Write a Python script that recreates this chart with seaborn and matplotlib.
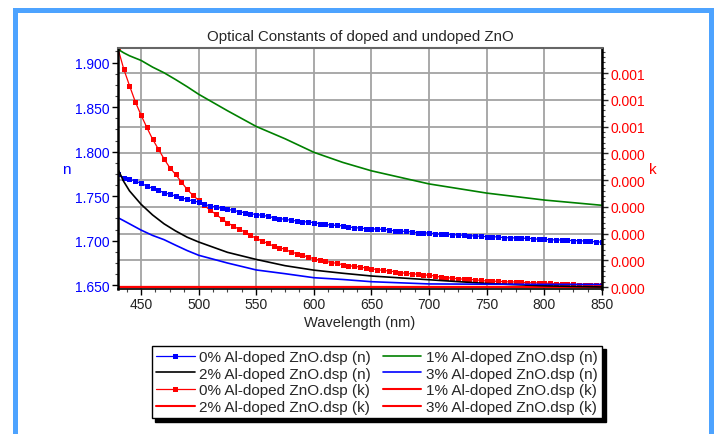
import numpy as np
import matplotlib
matplotlib.use('Agg')
import matplotlib.pyplot as plt
import seaborn as sns
from matplotlib.ticker import MultipleLocator, FixedLocator, FixedFormatter
from matplotlib.patches import Rectangle

sns.set_style('ticks')
plt.rcParams['font.family'] = ['Liberation Sans', 'DejaVu Sans']

# wavelength grids (nm)
wl_fine = np.arange(430, 851, 5)
wl_line = [430, 435, 440, 450, 460, 470, 480, 490, 500, 525, 550, 575, 600, 625, 650, 700, 750, 800, 850]

# 0% Al-doped, n (marker series, every 5 nm)
n_0 = [1.7746, 1.7708, 1.7690, 1.7671, 1.7645, 1.7615, 1.7589, 1.7566, 1.7540, 1.7522,
       1.7502, 1.7483, 1.7465, 1.7446, 1.7435, 1.7409, 1.7390, 1.7379, 1.7364, 1.7353,
       1.7342, 1.7326, 1.7315, 1.7304, 1.7293, 1.7286, 1.7275, 1.7259, 1.7248, 1.7241,
       1.7230, 1.7222, 1.7214, 1.7211, 1.7203, 1.7192, 1.7185, 1.7174, 1.7174, 1.7166,
       1.7154, 1.7147, 1.7143, 1.7135, 1.7135, 1.7129, 1.7129, 1.7121, 1.7110, 1.7106,
       1.7106, 1.7098, 1.7090, 1.7090, 1.7087, 1.7079, 1.7073, 1.7073, 1.7068, 1.7065,
       1.7061, 1.7057, 1.7053, 1.7050, 1.7046, 1.7046, 1.7042, 1.7034, 1.7034, 1.7031,
       1.7028, 1.7028, 1.7023, 1.7016, 1.7016, 1.7012, 1.7009, 1.7009, 1.7005, 1.7001,
       1.7001, 1.6997, 1.6994, 1.6986, 1.6986]

# 0% Al-doped, k in units of 1e-4 (marker series, every 5 nm)
k_0_e4 = [8.92, 8.15, 7.53, 6.93, 6.43, 5.97, 5.53, 5.16, 4.79, 4.46,
          4.21, 3.93, 3.65, 3.43, 3.24, 3.05, 2.87, 2.72, 2.55, 2.40,
          2.28, 2.16, 2.06, 1.93, 1.82, 1.72, 1.63, 1.53, 1.47, 1.41,
          1.31, 1.25, 1.19, 1.12, 1.06, 1.00, 0.97, 0.91, 0.89, 0.83,
          0.80, 0.77, 0.75, 0.71, 0.68, 0.65, 0.62, 0.60, 0.57, 0.54,
          0.51, 0.49, 0.48, 0.45, 0.44, 0.41, 0.37, 0.35, 0.33, 0.31,
          0.29, 0.29, 0.26, 0.25, 0.22, 0.22, 0.21, 0.20, 0.19, 0.19,
          0.18, 0.16, 0.16, 0.15, 0.14, 0.14, 0.12, 0.12, 0.11, 0.10,
          0.09, 0.08, 0.08, 0.06, 0.06]

# plain line series on wl_line
n_1 = [1.915, 1.911, 1.9077, 1.9025, 1.895, 1.8886, 1.881, 1.873, 1.8645, 1.846,
       1.8283, 1.8145, 1.7993, 1.788, 1.7785, 1.7638, 1.7535, 1.7457, 1.7398]
n_2 = [1.7802, 1.7665, 1.756, 1.741, 1.729, 1.719, 1.711, 1.704, 1.6986, 1.687,
       1.679, 1.672, 1.667, 1.6635, 1.6604, 1.6562, 1.652, 1.6494, 1.6481]
n_3 = [1.7259, 1.7225, 1.719, 1.712, 1.706, 1.7012, 1.695, 1.689, 1.6837, 1.675,
       1.6672, 1.663, 1.6585, 1.6565, 1.654, 1.6515, 1.6512, 1.651, 1.651]
k_1 = [0.0] * 19
k_2 = [0.0] * 19
k_3 = [0.0] * 19

n_ticks = [1.650, 1.700, 1.750, 1.800, 1.850, 1.900]
k_ticks = [0.0, 1e-4, 2e-4, 3e-4, 4e-4, 5e-4, 6e-4, 7e-4, 8e-4]
k_tick_labels = ['0.000', '0.000', '0.000', '0.000', '0.000', '0.000', '0.001', '0.001', '0.001']
x_ticks = [450, 500, 550, 600, 650, 700, 750, 800, 850]

BLUE = '#0000ff'
RED = '#ff0000'
GREEN = '#008000'

fig = plt.figure(figsize=(7.18, 4.35), dpi=100)
fig.patch.set_facecolor('white')
ax = fig.add_axes([0.1643, 0.3333, 0.6741, 0.5540])
axk = ax.twinx()
ax.set_zorder(2)
axk.set_zorder(1)
ax.patch.set_visible(False)

k_0 = np.array(k_0_e4) * 1e-4

# k series (right axis)
sns.lineplot(x=wl_fine, y=k_0, ax=axk, color=RED, lw=0.9, marker='s', markersize=3.6,
             mec=RED, mew=0, label='0% Al-doped ZnO.dsp (k)', legend=False)
sns.lineplot(x=wl_line, y=k_1, ax=axk, color=RED, lw=1.5, label='1% Al-doped ZnO.dsp (k)', legend=False)
sns.lineplot(x=wl_line, y=k_2, ax=axk, color=RED, lw=1.5, label='2% Al-doped ZnO.dsp (k)', legend=False)
sns.lineplot(x=wl_line, y=k_3, ax=axk, color=RED, lw=1.5, label='3% Al-doped ZnO.dsp (k)', legend=False)

# n series (left axis)
sns.lineplot(x=wl_fine, y=n_0, ax=ax, color=BLUE, lw=0.9, marker='s', markersize=3.6,
             mec=BLUE, mew=0, label='0% Al-doped ZnO.dsp (n)', legend=False)
sns.lineplot(x=wl_line, y=n_1, ax=ax, color=GREEN, lw=1.2, label='1% Al-doped ZnO.dsp (n)', legend=False)
sns.lineplot(x=wl_line, y=n_2, ax=ax, color='black', lw=1.2, label='2% Al-doped ZnO.dsp (n)', legend=False)
sns.lineplot(x=wl_line, y=n_3, ax=ax, color=BLUE, lw=1.2, label='3% Al-doped ZnO.dsp (n)', legend=False)

# axes ranges and ticks
ax.set_xlim(430, 850)
ax.set_xticks(x_ticks)
ax.xaxis.set_minor_locator(MultipleLocator(12.5))
ax.set_ylim(1.6458, 1.9164)
ax.set_yticks(n_ticks)
ax.set_yticklabels([f'{v:.3f}' for v in n_ticks])
ax.yaxis.set_minor_locator(MultipleLocator(0.0125))

axk.set_ylim(-0.075e-4, 8.935e-4)
axk.yaxis.set_major_locator(FixedLocator(k_ticks))
axk.yaxis.set_major_formatter(FixedFormatter(k_tick_labels))
axk.yaxis.set_minor_locator(MultipleLocator(2e-5))

ax.tick_params(axis='both', which='major', length=4, width=1, labelsize=10, direction='out', color='black', pad=2)
ax.tick_params(axis='both', which='minor', length=2, width=0.8, direction='out', color='#444444')
ax.tick_params(axis='y', labelcolor=BLUE)
ax.tick_params(axis='x', labelcolor='#222222')
axk.tick_params(axis='y', which='major', length=4, width=1, labelsize=10, labelcolor=RED, direction='out', pad=2)
axk.tick_params(axis='y', which='minor', length=2, width=0.8, direction='out', color='#444444')

# grid drawn on the bottom axes so it stays under all curves
axk.xaxis.set_visible(True)
axk.tick_params(axis='x', which='both', bottom=False, top=False, labelbottom=False, labeltop=False)
axk.grid(True, which='major', axis='both', color='#a3a3a3', lw=1.3)
ax.grid(False)

for s in axk.spines.values():
    s.set_visible(False)
ax.spines['left'].set_color('black')
ax.spines['left'].set_linewidth(1.8)
ax.spines['right'].set_visible(True)
ax.spines['right'].set_color('black')
ax.spines['right'].set_linewidth(1.8)
ax.spines['top'].set_visible(True)
ax.spines['top'].set_color('#666666')
ax.spines['top'].set_linewidth(1.5)
ax.spines['bottom'].set_color('black')
ax.spines['bottom'].set_linewidth(1.2)

# labels
ax.set_title('Optical Constants of doped and undoped ZnO', fontsize=10.8, pad=6)
ax.set_xlabel('Wavelength (nm)', fontsize=10.5, va='center')
ax.xaxis.set_label_coords(0.5, -0.137)
ax.set_ylabel('n', rotation=0, color=BLUE, fontsize=11, va='center', ha='center')
ax.yaxis.set_label_coords(-0.107, 0.5)
axk.set_ylabel('k', rotation=0, color=RED, fontsize=11, va='center', ha='center')
axk.yaxis.set_label_coords(1.105, 0.5)

# legend, column-major order
hn, ln = ax.get_legend_handles_labels()
hk, lk = axk.get_legend_handles_labels()
d = dict(zip(ln + lk, hn + hk))
order = ['0% Al-doped ZnO.dsp (n)', '2% Al-doped ZnO.dsp (n)',
         '0% Al-doped ZnO.dsp (k)', '2% Al-doped ZnO.dsp (k)',
         '1% Al-doped ZnO.dsp (n)', '3% Al-doped ZnO.dsp (n)',
         '1% Al-doped ZnO.dsp (k)', '3% Al-doped ZnO.dsp (k)']
leg = fig.legend([d[o] for o in order], order, ncol=2, loc='upper center',
                 bbox_to_anchor=(377 / 718, 1 - 346.5 / 435), frameon=True, fancybox=False,
                 edgecolor='black', framealpha=1, fontsize=11, handlelength=2.5,
                 handletextpad=0.3, columnspacing=0.8, labelspacing=0.17, borderpad=0.3,
                 borderaxespad=0, shadow={'color': 'black', 'alpha': 1, 'ox': 2.5, 'oy': -2.5})
leg.get_frame().set_linewidth(1.0)

# light-blue frame around the chart
fig.patches.append(Rectangle((15 / 718, -0.05), (710.8 - 15) / 718, 1.05 - 10.5 / 435,
                             transform=fig.transFigure, fill=False, edgecolor='#4da3ff', lw=3.6))

fig.savefig('out.png', dpi=100)
